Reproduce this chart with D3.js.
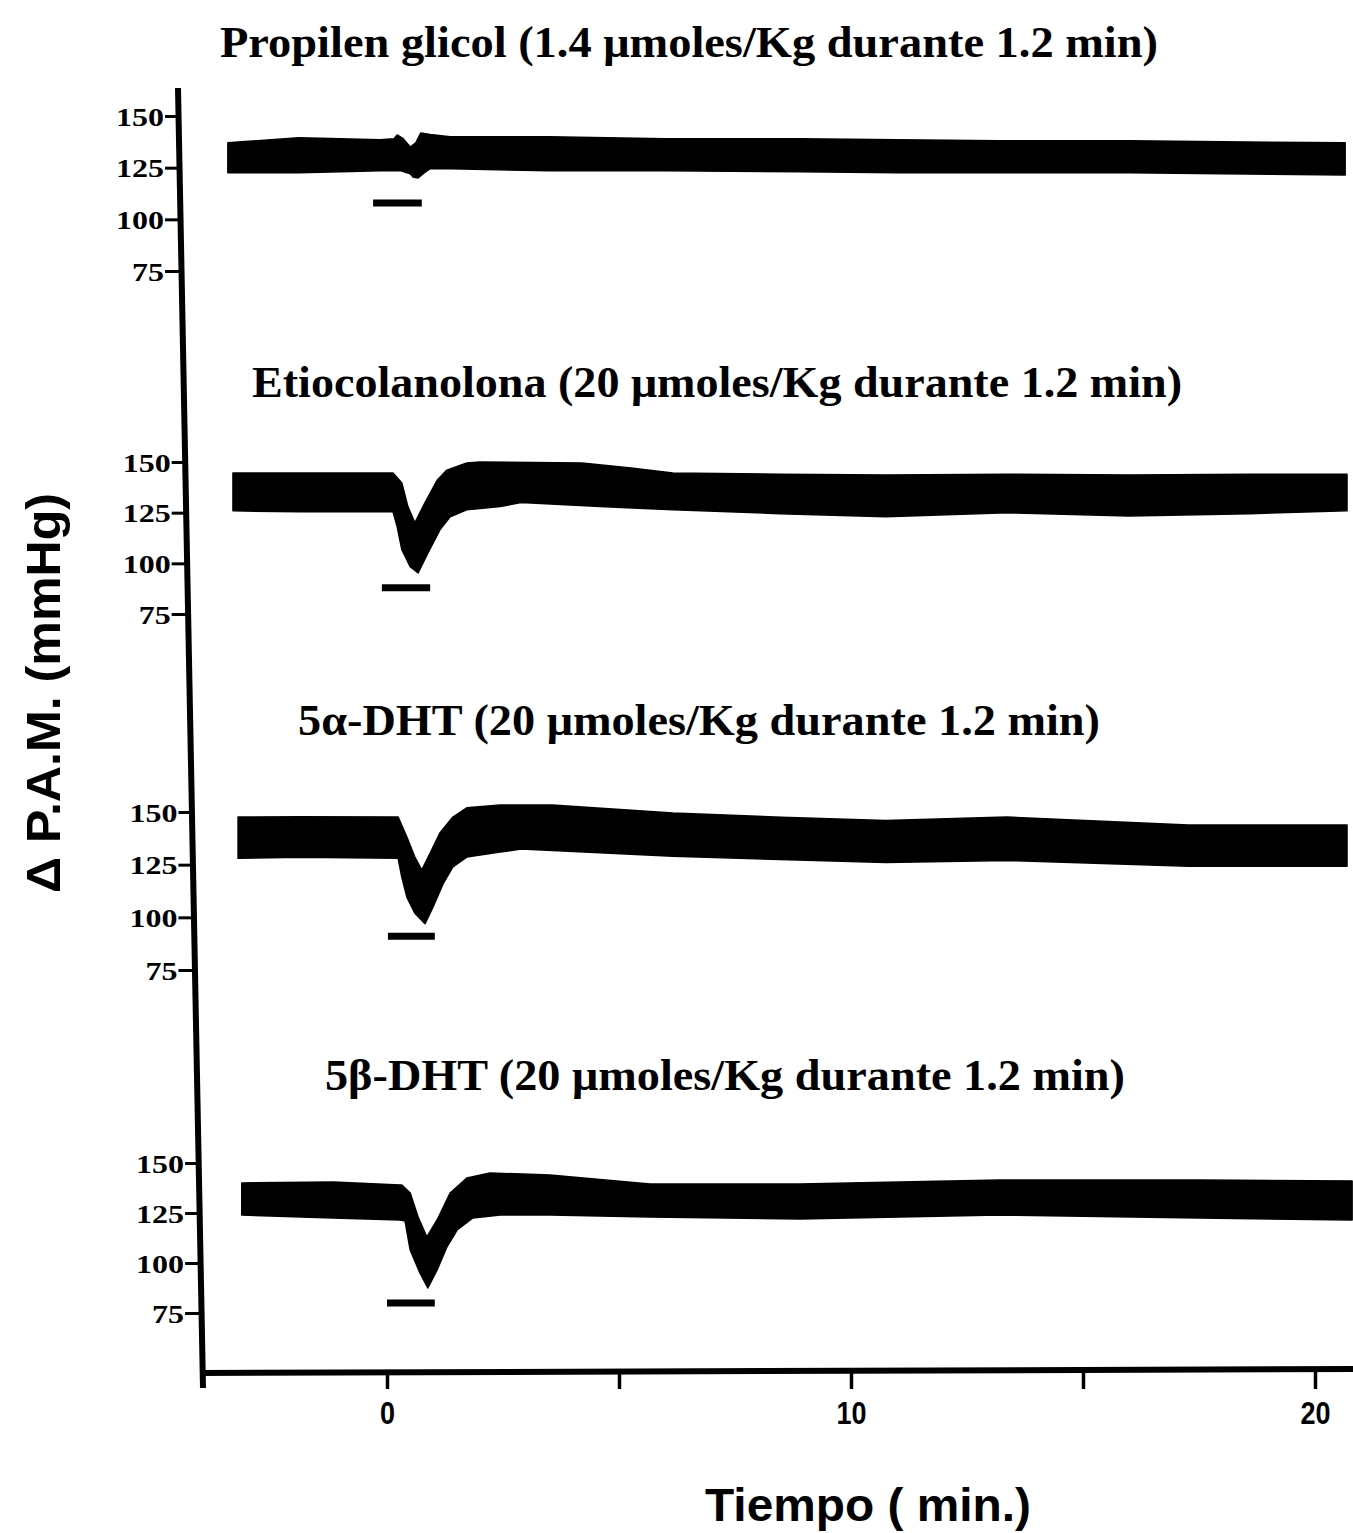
<!DOCTYPE html>
<html><head><meta charset="utf-8">
<script src="https://cdn.jsdelivr.net/npm/d3@7"></script>
<style>body{margin:0;background:#fff}</style>
</head><body><svg id="c" width="1353" height="1533"></svg>
<script>
// ---------- data ----------
const titles = [
  "Propilen glicol (1.4 \u03bcmoles/Kg durante 1.2 min)",
  "Etiocolanolona (20 \u03bcmoles/Kg durante 1.2 min)",
  "5\u03b1-DHT (20 \u03bcmoles/Kg durante 1.2 min)",
  "5\u03b2-DHT (20 \u03bcmoles/Kg durante 1.2 min)"
];
const yTicks = [150, 125, 100, 75];
const xTicks = [0, 5, 10, 15, 20];
const xTickLabels = ["0", "", "10", "", "20"];
const yLabel = "\u0394 P.A.M. (mmHg)";
const xLabel = "Tiempo ( min.)";

// upper (systolic) and lower (diastolic) envelope of each recording: [min, mmHg]
const propHi = [[-3.43,137],[-2.5,138.5],[-1.9,139.5],[-1.0,139],[-0.15,138.5],[0.15,139],[0.22,140.8],[0.35,139],[0.5,135],[0.62,137],[0.73,141.8],[0.93,141],[1.36,140],[3.5,140],[6,139],[8.9,139],[11,138.5],[13.2,138],[16,138],[18,137.5],[20.65,137]];
const propLo = [[-3.43,122.5],[-1.9,122.5],[-1.0,123],[-0.15,123.5],[0.3,123.5],[0.5,122],[0.56,120.5],[0.67,120],[0.8,122.5],[0.93,124.5],[1.36,124.5],[3.5,123.5],[6,123.5],[8.9,123],[11,122.5],[13.2,122.5],[16,122.5],[18,122],[20.65,121.5]];

const etioHi = [[-3.32,144.6],[-1.88,144.6],[0.13,144.6],[0.32,139.7],[0.45,128],[0.60,120],[0.82,130],[1.08,141],[1.29,146],[1.72,149.5],[2.0,150],[4.2,149.5],[5.26,147],[6.16,144.6],[8.47,144],[10.75,143.6],[13.36,144],[15.99,143.6],[18.6,144],[20.69,144]];
const etioLo = [[-3.32,125.9],[-1.88,125.4],[0.13,125.4],[0.22,118],[0.32,106.7],[0.50,98.3],[0.67,95.3],[0.88,105],[1.14,116.5],[1.36,123],[1.72,126.4],[2.44,128],[2.89,130],[4.59,128],[6.16,126.4],[8.47,124.5],[10.75,123],[13.36,125],[15.99,123.4],[18.6,124.5],[20.69,126]];

const alfaHi = [[-3.21,147.6],[-1.88,147.8],[0.24,147.6],[0.43,138],[0.60,128.6],[0.75,122.4],[0.93,130.5],[1.14,140],[1.42,147.6],[1.72,152],[2.44,153.3],[3.56,153.3],[6.16,149.5],[8.5,147.5],[10.75,146],[13.36,147.6],[17.28,143.8],[20.69,143.8]];
const alfaLo = [[-3.21,128],[-1.88,128.5],[0.24,128],[0.32,119],[0.43,109.5],[0.60,102],[0.82,97],[0.99,104.8],[1.21,116],[1.42,124],[1.72,128.6],[2.44,131],[2.89,132.4],[6.16,129],[10.75,126],[13.36,127],[17.28,124.3],[20.69,124.3]];

const betaHi = [[-3.13,140],[-1.16,140.5],[0.28,139],[0.32,139],[0.50,135],[0.67,123],[0.86,113],[1.08,121.5],[1.36,135],[1.72,142.5],[2.22,145],[3.51,144],[5.67,139.5],[8.9,139.5],[13.2,141.5],[17.5,141.5],[20.8,141]];
const betaLo = [[-3.13,124],[-1.16,122.5],[0.28,121.5],[0.39,121],[0.50,106.5],[0.71,95],[0.88,87.5],[1.08,96.5],[1.29,108],[1.51,116.5],[1.85,122.5],[2.44,124],[3.51,124],[5.67,123],[8.9,122],[13.2,124],[17.5,122.5],[20.8,121.5]];

// infusion bars: start (min), end (min), level (mmHg)
const barStart = [-0.30, -0.11, 0.02, 0.0];
const barEnd   = [0.75, 0.93, 1.03, 1.03];
const barLevel = [107.9, 88, 91, 80];

// ---------- layout ----------
const svg = d3.select("#c");
const x = d3.scaleLinear().domain([0, 20]).range([387, 1315]);
const panelDefs = [
  {hi: propHi, lo: propLo, r: [116, 271], tx: 689, ty: 57, tw: 938},
  {hi: etioHi, lo: etioLo, r: [462, 614], tx: 717, ty: 397, tw: 930},
  {hi: alfaHi, lo: alfaLo, r: [812, 970], tx: 699, ty: 735, tw: 802},
  {hi: betaHi, lo: betaLo, r: [1163, 1313], tx: 725, ty: 1090, tw: 800}
];
const axTop = [178, 88], axBot = [203, 1388];
const axXAt = yy => axTop[0] + (yy - axTop[1]) * (axBot[0] - axTop[0]) / (axBot[1] - axTop[1]);

// main vertical axis line
svg.append("line").attr("x1", axTop[0]).attr("y1", axTop[1]).attr("x2", axBot[0]).attr("y2", axBot[1])
  .attr("stroke", "#000").attr("stroke-width", 6);

const line = d3.line().x(d => x(d[0]));

panelDefs.forEach((p, i) => {
  const y = d3.scaleLinear().domain([150, 75]).range(p.r);
  line.y(d => y(d[1]));
  const path = line(p.hi) + line(p.lo.slice().reverse()).replace(/^M/, "L") + "Z";
  svg.append("path").attr("d", path).attr("fill", "#000").attr("stroke", "#000").attr("stroke-width", 1.5).attr("stroke-linejoin", "round");

  // bar
  svg.append("line").attr("x1", x(barStart[i])).attr("x2", x(barEnd[i]))
    .attr("y1", y(barLevel[i])).attr("y2", y(barLevel[i]))
    .attr("stroke", "#000").attr("stroke-width", 7);

  // y axis
  const ax = axXAt((p.r[0] + p.r[1]) / 2);
  const g = svg.append("g").attr("transform", `translate(${ax},0)`)
    .call(d3.axisLeft(y).tickValues(yTicks).tickSize(15).tickPadding(1));
  g.select(".domain").remove();
  g.selectAll(".tick line").attr("stroke", "#000").attr("stroke-width", 3);
  g.selectAll(".tick text").attr("fill", "#000")
    .attr("font-family", "'Liberation Serif', 'Times New Roman', serif")
    .attr("font-weight", "bold")
    .attr("font-size", 25).attr("dy", "0.36em")
    .attr("textLength", d => d >= 100 ? 48 : 32).attr("lengthAdjust", "spacingAndGlyphs");

  // title
  svg.append("text").attr("x", p.tx).attr("y", p.ty).attr("text-anchor", "middle")
    .attr("font-family", "'Liberation Serif', 'Times New Roman', serif").attr("font-weight", "bold")
    .attr("font-size", 45).attr("textLength", p.tw).attr("lengthAdjust", "spacingAndGlyphs")
    .text(titles[i]);
});

// x axis
const gx = svg.append("g").attr("transform", "translate(0,1372)")
  .call(d3.axisBottom(x).tickValues(xTicks).tickSize(17).tickPadding(12)
    .tickFormat((d, i) => xTickLabels[i]));
gx.select(".domain").remove();
gx.selectAll(".tick line").attr("stroke", "#000").attr("stroke-width", 3.5);
gx.selectAll(".tick text").attr("fill", "#000")
  .attr("font-family", "'Liberation Sans', Arial, sans-serif").attr("font-weight", "bold").attr("font-size", 32)
  .attr("textLength", (d, i) => xTickLabels[i].length * 15).attr("lengthAdjust", "spacingAndGlyphs");
svg.append("line").attr("x1", 200).attr("x2", 1353).attr("y1", 1373).attr("y2", 1369)
  .attr("stroke", "#000").attr("stroke-width", 6);

// axis titles
svg.append("text").attr("transform", "translate(60,693) rotate(-90)").attr("text-anchor", "middle")
  .attr("font-family", "'Liberation Sans', Arial, sans-serif").attr("font-weight", "bold")
  .attr("font-size", 49).attr("textLength", 400).attr("lengthAdjust", "spacingAndGlyphs")
  .text(yLabel);
svg.append("text").attr("x", 868).attr("y", 1521).attr("text-anchor", "middle")
  .attr("font-family", "'Liberation Sans', Arial, sans-serif").attr("font-weight", "bold")
  .attr("font-size", 47).attr("textLength", 326).attr("lengthAdjust", "spacingAndGlyphs")
  .text(xLabel);
</script></body></html>
